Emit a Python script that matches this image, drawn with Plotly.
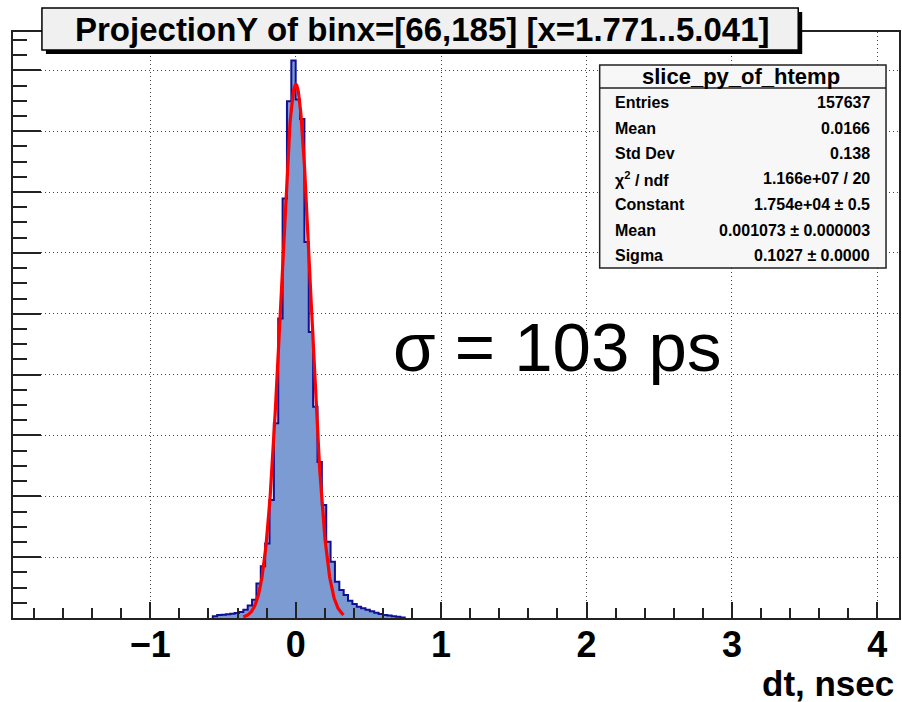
import numpy as np
import plotly.graph_objects as go

# ---- dt distribution (ProjectionY slice), bin width 0.03 nsec ----
bin_width = 0.03
bin_low = np.round(np.arange(-0.57, 0.7201, bin_width), 3)
counts = [60, 95, 110, 120, 140, 165, 200, 270, 410,
          600, 1130, 1700, 2450, 3880, 6400, 9840, 13790, 16980, 18325,
          17040, 16400, 12360, 9400, 6940, 5130, 3710, 2510, 1850, 1190,
          920, 755, 570, 460, 370, 320, 270, 220, 170, 130,
          100, 80, 60, 40, 20]

# ---- Gaussian fit results ----
fit_const = 1.754e4
fit_mean = 0.001073
fit_sigma = 0.1027
fit_range = (-0.36, 0.33)

# ---- statistics box ----
stats_title = "slice_py_of_htemp"
stats_labels = ["Entries", "Mean", "Std Dev", "χ<sup>2</sup> / ndf",
                "Constant", "Mean", "Sigma"]
stats_values = ["157637", "0.0166", "0.138", "1.166e+07 / 20",
                "1.754e+04 ± 0.5", "0.001073 ± 0.000003", "0.1027 ± 0.0000"]

title_text = "ProjectionY of binx=[66,185] [x=1.771..5.041]"
x_title = "dt, nsec"
sigma_note = "σ = 103 ps"

W, H = 902, 702
L, R, T, B = 13, 1, 32, 84


def px(xp):
    return (xp - L) / (W - L - R)


def py(yp):
    return (H - B - yp) / (H - T - B)


FONT = "Liberation Sans"

# step outline of the histogram, closed down to zero at both ends
xs = [bin_low[0]] + list(bin_low) + [bin_low[-1] + bin_width]
ys = [0] + counts + [0]

xf = np.linspace(fit_range[0], fit_range[1], 300)
yf = fit_const * np.exp(-0.5 * ((xf - fit_mean) / fit_sigma) ** 2)

fig = go.Figure()
fig.add_trace(go.Scatter(
    x=xs, y=ys, mode="lines", line_shape="hv",
    line=dict(color="#101095", width=2),
    fill="tozeroy", fillcolor="#7b9bd2", hoverinfo="skip", showlegend=False))
fig.add_trace(go.Scatter(
    x=xf, y=yf, mode="lines", line=dict(color="#ff0000", width=3.2),
    hoverinfo="skip", showlegend=False))

shapes = []
annotations = []

# title box with drop shadow
shapes.append(dict(type="rect", xref="paper", yref="paper",
                   x0=px(46), x1=px(804), y0=py(54), y1=py(12),
                   fillcolor="#000000", line=dict(width=0), layer="above"))
shapes.append(dict(type="rect", xref="paper", yref="paper",
                   x0=px(42), x1=px(800), y0=py(50), y1=py(8),
                   fillcolor="#f0f0f0", line=dict(color="#000000", width=1.5),
                   layer="above"))
annotations.append(dict(text="<b>" + title_text + "</b>", xref="paper", yref="paper",
                        x=px(423), y=py(29), xanchor="center", yanchor="middle",
                        showarrow=False, font=dict(family=FONT, size=33, color="#000")))

# statistics box
shapes.append(dict(type="rect", xref="paper", yref="paper",
                   x0=px(601), x1=px(888), y0=py(268), y1=py(65),
                   fillcolor="#f7f7f7", line=dict(color="#222222", width=1.5),
                   layer="above"))
shapes.append(dict(type="line", xref="paper", yref="paper",
                   x0=px(601), x1=px(888), y0=py(88), y1=py(88),
                   line=dict(color="#222222", width=1.5), layer="above"))
annotations.append(dict(text="<b>" + stats_title + "</b>", xref="paper", yref="paper",
                        x=px(743), y=py(76), xanchor="center", yanchor="middle",
                        showarrow=False, font=dict(family=FONT, size=22, color="#000")))
row_y = [102.7, 128.3, 153.3, 179.0, 204.3, 230.0, 255.0]
for lab, val, yy in zip(stats_labels, stats_values, row_y):
    annotations.append(dict(text="<b>" + lab + "</b>", xref="paper", yref="paper",
                            x=px(614), y=py(yy), xanchor="left", yanchor="middle",
                            showarrow=False, font=dict(family=FONT, size=16, color="#000")))
    annotations.append(dict(text="<b>" + val + "</b>", xref="paper", yref="paper",
                            x=px(874), y=py(yy), xanchor="right", yanchor="middle",
                            showarrow=False, font=dict(family=FONT, size=16, color="#000")))

# resolution note
annotations.append(dict(text=sigma_note, xref="paper", yref="paper",
                        x=px(558), y=py(347), xanchor="center", yanchor="middle",
                        showarrow=False, font=dict(family=FONT, size=69, color="#000")))

# x-axis title, right aligned
annotations.append(dict(text="<b>" + x_title + "</b>", xref="paper", yref="paper",
                        x=px(898), y=py(684), xanchor="right", yanchor="middle",
                        showarrow=False, font=dict(family=FONT, size=35, color="#000")))

fig.update_layout(
    width=W, height=H,
    margin=dict(l=L, r=R, t=T, b=B),
    paper_bgcolor="#ffffff", plot_bgcolor="#ffffff",
    shapes=shapes, annotations=annotations,
    showlegend=False,
)
fig.update_xaxes(
    range=[-1.944, 4.149], tickmode="linear", tick0=0, dtick=1,
    ticks="inside", ticklen=16, tickwidth=1.5, tickcolor="#222",
    showline=True, linecolor="#222", linewidth=1.5, mirror=True,
    showgrid=True, gridcolor="#444", gridwidth=1, griddash="1px,3px",
    zeroline=False, ticklabelstandoff=-6,
    tickfont=dict(family=FONT, size=36, color="#000", weight="bold"),
    minor=dict(dtick=0.2, tick0=0, ticks="inside", ticklen=10, tickwidth=1.5,
               tickcolor="#222", showgrid=False),
)
fig.update_yaxes(
    range=[0, 19260], tickmode="linear", tick0=0, dtick=2000,
    ticks="inside", ticklen=28, tickwidth=1.5, tickcolor="#222",
    showticklabels=False,
    showline=True, linecolor="#222", linewidth=1.5, mirror=True,
    showgrid=True, gridcolor="#444", gridwidth=1, griddash="1px,3px",
    zeroline=False,
    minor=dict(dtick=500, tick0=0, ticks="inside", ticklen=14, tickwidth=1.5,
               tickcolor="#222", showgrid=False),
)

fig.write_html("out.html")
